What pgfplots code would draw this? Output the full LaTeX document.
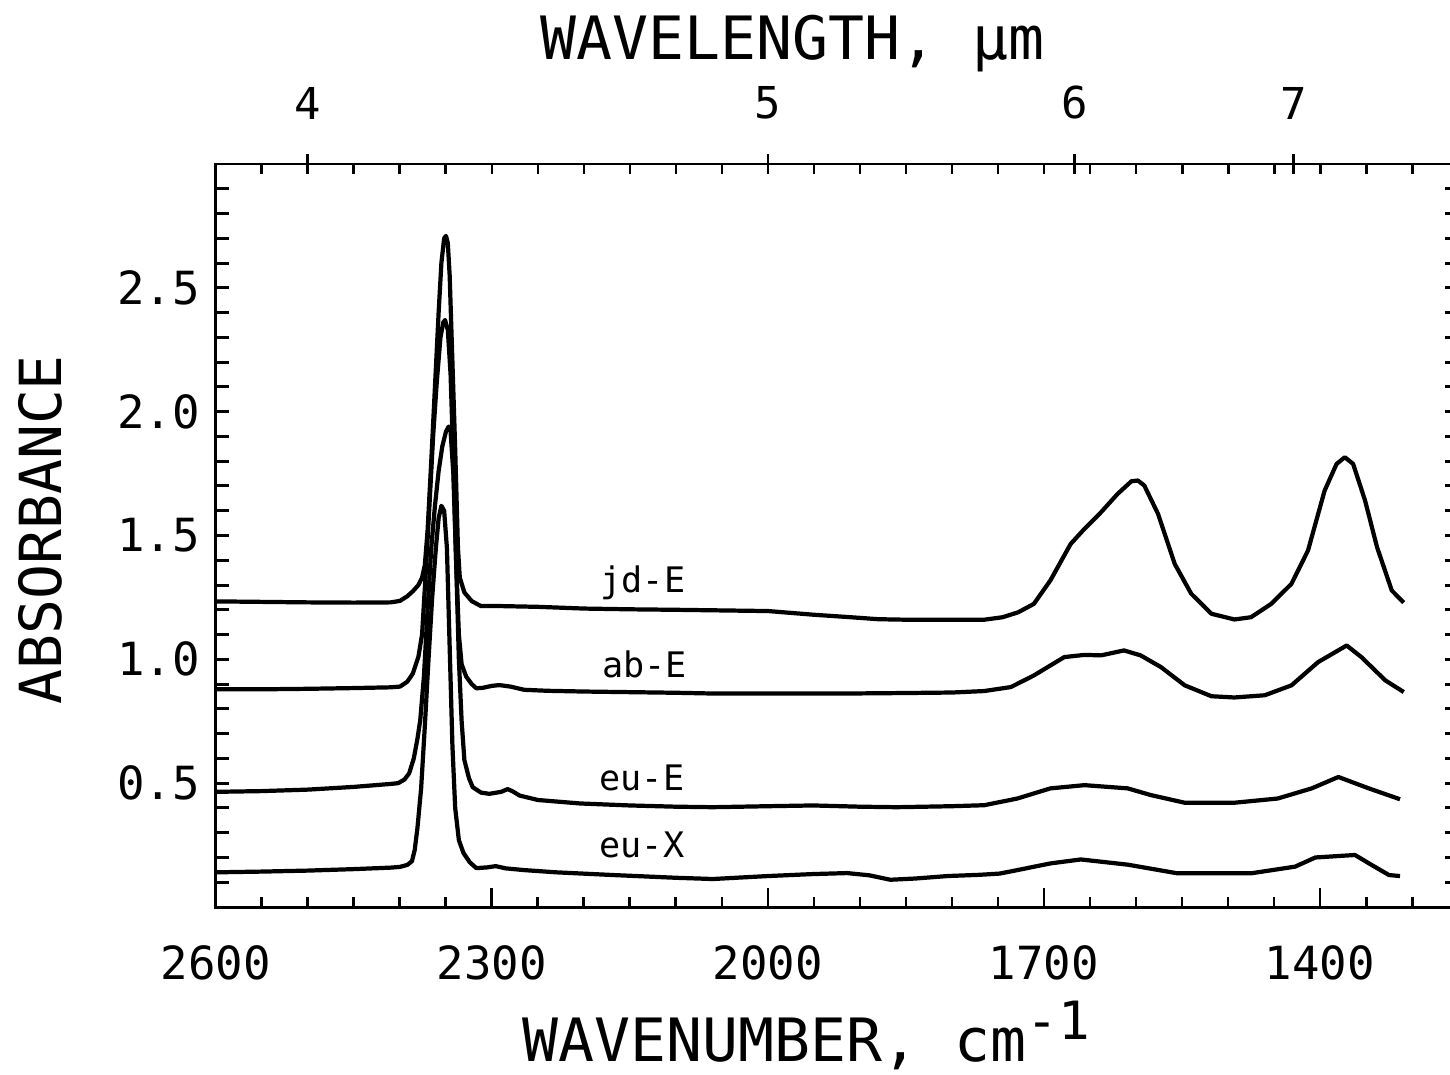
\documentclass[border=0pt]{standalone}
\usepackage{fontspec}
\setmainfont{DejaVu Sans Mono}[Numbers=SlashedZero]
\usepackage{pgfplots}
\pgfplotsset{compat=1.18}

\pgfplotsset{spec/.style={
  scale only axis, width=12.42cm, height=7.43cm,
  xmin=1250, xmax=2600, x dir=reverse, ymin=0, ymax=3,
  axis line style={line width=0.85pt},
  every tick/.style={line width=0.85pt, black},
  tick align=inside,
}}
\tikzset{spectrum/.style={black, line width=1.2pt, line join=round, no marks}}

\begin{document}
\begin{tikzpicture}
% --- top axis, minor ticks every 50 cm-1
\begin{axis}[spec,
  xtick={1300,1350,...,2550}, xticklabels={}, xtick pos=right,
  major tick length=1.0mm, ytick=\empty]
\end{axis}
% --- top axis, wavelength majors
\begin{axis}[spec,
  xtick={2500,2000,1666.667,1428.571}, xticklabels={4,5,6,7},
  xtick pos=right, xticklabel pos=right, tick align=center,
  major tick length=2.0mm, ytick=\empty,
  xticklabel style={font=\fontsize{12.5}{12.5}\selectfont, yshift=2.2mm}]
\end{axis}
% --- left and right ticks
\begin{axis}[spec,
  xtick=\empty,
  ytick={0.5,1.0,1.5,2.0,2.5}, yticklabels={0.5,1.0,1.5,2.0,2.5},
  minor ytick={0.1,0.2,...,2.95},
  ytick pos=both, yticklabel pos=left,
  major tick length=1.3mm, minor tick length=1.3mm,
  yticklabel style={font=\fontsize{13}{13}\selectfont, xshift=-0.4mm}]
\end{axis}
% --- data and bottom axis
\begin{axis}[spec, clip=false,
  xtick={2600,2300,2000,1700,1400}, xticklabels={2600,2300,2000,1700,1400},
  minor xtick={1300,1350,...,2550}, xtick pos=left,
  major tick length=1.9mm, minor tick length=1.0mm, ytick=\empty,
  xticklabel style={font=\fontsize{13}{13}\selectfont, yshift=-2.6mm},
]
% jd-E
\addplot[spectrum] coordinates {
(2600,1.234) (2550,1.232) (2500,1.230) (2450,1.229) (2410,1.230) (2400,1.236)
(2392,1.255) (2386,1.275) (2380,1.30) (2376,1.33) (2373,1.38) (2370,1.52)
(2366,1.80) (2362,2.10) (2358,2.40) (2355,2.60) (2352,2.70) (2350,2.71)
(2348,2.68) (2346,2.55) (2343,2.20) (2340,1.85) (2337,1.45) (2335,1.33)
(2330,1.27) (2322,1.235) (2312,1.215) (2290,1.215) (2250,1.212) (2200,1.205)
(2150,1.202) (2100,1.200) (2060,1.198) (2000,1.195) (1950,1.180) (1910,1.170)
(1880,1.162) (1850,1.160) (1800,1.160) (1765,1.160) (1745,1.170) (1728,1.190)
(1711,1.224) (1693,1.319) (1671,1.466) (1656,1.527) (1638,1.594) (1620,1.668)
(1605,1.719) (1598,1.722) (1591,1.702) (1576,1.587) (1558,1.386) (1540,1.265)
(1518,1.184) (1493,1.161) (1475,1.170) (1453,1.224) (1431,1.305) (1413,1.44)
(1395,1.681) (1382,1.789) (1373,1.816) (1364,1.789) (1351,1.641) (1338,1.453)
(1322,1.278) (1309,1.229)};
% ab-E
\addplot[spectrum] coordinates {
(2600,0.879) (2550,0.879) (2500,0.881) (2450,0.884) (2410,0.887) (2400,0.890)
(2392,0.91) (2386,0.943) (2380,1.01) (2376,1.10) (2372,1.35) (2368,1.62)
(2364,1.90) (2360,2.12) (2356,2.30) (2353,2.36) (2351,2.37) (2348,2.33)
(2345,2.15) (2342,1.80) (2339,1.40) (2336,1.10) (2333,0.98) (2328,0.93)
(2322,0.90) (2317,0.883) (2310,0.885) (2300,0.893) (2292,0.896) (2280,0.890)
(2265,0.877) (2240,0.873) (2200,0.870) (2100,0.865) (2060,0.862) (2000,0.862)
(1950,0.862) (1914,0.862) (1850,0.864) (1800,0.866) (1765,0.872) (1736,0.888)
(1711,0.935) (1678,1.009) (1656,1.018) (1638,1.016) (1613,1.036) (1595,1.016)
(1573,0.969) (1547,0.895) (1518,0.851) (1493,0.846) (1460,0.855) (1431,0.895)
(1402,0.989) (1371,1.056) (1355,1.009) (1329,0.915) (1309,0.868)};
% eu-E
\addplot[spectrum] coordinates {
(2600,0.465) (2550,0.468) (2500,0.474) (2450,0.485) (2410,0.497) (2402,0.50)
(2395,0.515) (2390,0.54) (2385,0.60) (2381,0.68) (2378,0.754) (2374,0.93)
(2370,1.20) (2366,1.45) (2362,1.62) (2358,1.76) (2354,1.86) (2350,1.92)
(2347,1.94) (2345,1.92) (2342,1.75) (2339,1.40) (2336,1.00) (2333,0.75)
(2330,0.593) (2325,0.52) (2321,0.484) (2312,0.462) (2303,0.457) (2290,0.465)
(2283,0.476) (2278,0.468) (2270,0.450) (2250,0.432) (2204,0.418) (2150,0.410)
(2100,0.405) (2060,0.403) (2000,0.407) (1951,0.410) (1900,0.405) (1860,0.403)
(1800,0.407) (1765,0.411) (1729,0.438) (1693,0.479) (1656,0.492) (1609,0.479)
(1584,0.452) (1547,0.421) (1493,0.421) (1446,0.438) (1409,0.479) (1380,0.525)
(1347,0.479) (1313,0.435)};
% eu-X
\addplot[spectrum] coordinates {
(2600,0.140) (2550,0.143) (2500,0.147) (2450,0.153) (2410,0.159) (2400,0.162)
(2392,0.170) (2387,0.185) (2384,0.23) (2381,0.32) (2377,0.48) (2373,0.73)
(2369,1.00) (2365,1.25) (2361,1.45) (2358,1.57) (2355,1.62) (2352,1.60)
(2349,1.45) (2346,1.05) (2343,0.65) (2340,0.40) (2336,0.27) (2331,0.218)
(2324,0.18) (2317,0.157) (2305,0.160) (2296,0.165) (2285,0.156) (2265,0.149)
(2230,0.140) (2168,0.129) (2100,0.118) (2060,0.113) (2000,0.125) (1951,0.133)
(1914,0.137) (1890,0.128) (1867,0.110) (1840,0.115) (1805,0.125) (1770,0.130)
(1748,0.135) (1729,0.149) (1693,0.176) (1660,0.192) (1609,0.171) (1555,0.136)
(1475,0.136) (1427,0.163) (1405,0.200) (1362,0.210) (1344,0.17) (1325,0.129)
(1313,0.125)};

\node[anchor=base, font=\fontsize{10}{10}\selectfont] at (axis cs:2136,1.270) {jd-E};
\node[anchor=base, font=\fontsize{10}{10}\selectfont] at (axis cs:2134,0.927) {ab-E};
\node[anchor=base, font=\fontsize{10}{10}\selectfont] at (axis cs:2137,0.472) {eu-E};
\node[anchor=base, font=\fontsize{10}{10}\selectfont] at (axis cs:2137,0.198) {eu-X};

\node[anchor=base west, inner sep=0pt, font=\fontsize{17}{17}\selectfont]
  at (axis description cs:0.2464,-0.2086)
  {WAVENUMBER, cm\raisebox{2.2mm}{\fontsize{15}{15}\selectfont -1}};
\node[anchor=base west, inner sep=0pt, font=\fontsize{17}{17}\selectfont]
  at (axis description cs:0.2609,1.140) {WAVELENGTH, µm};
\node[anchor=base west, inner sep=0pt, rotate=90, font=\fontsize{16.5}{16.5}\selectfont]
  at (axis description cs:-0.124,0.272) {ABSORBANCE};
\end{axis}
\pgfresetboundingbox
\path[use as bounding box] ([shift={(-2.16cm,-1.67cm)}]current axis.south west)
  rectangle ([shift={(12.34cm,9.07cm)}]current axis.south west);
\end{tikzpicture}
\end{document}
